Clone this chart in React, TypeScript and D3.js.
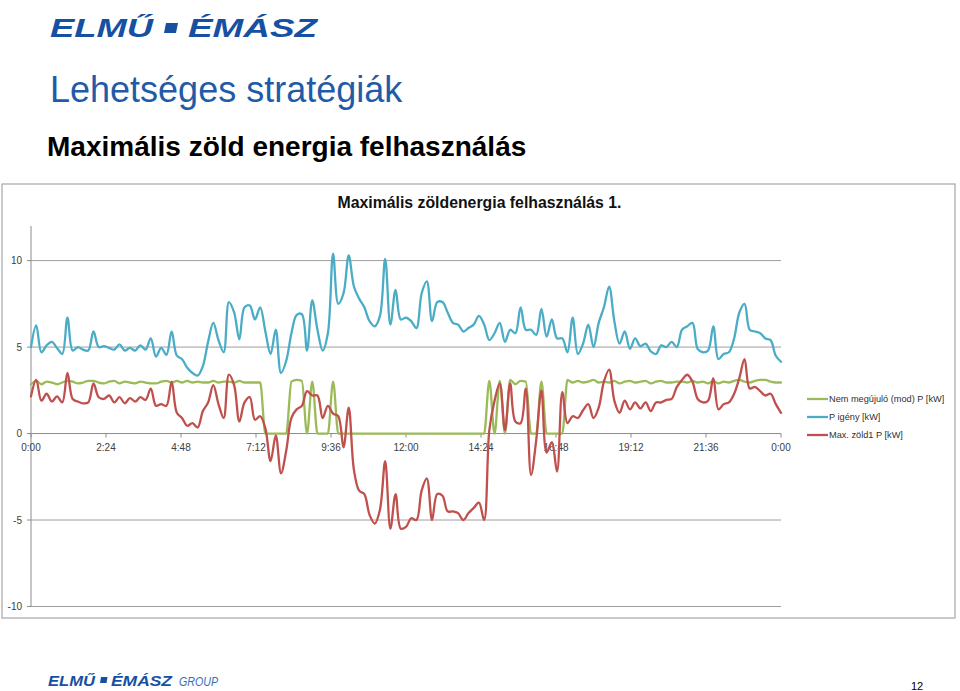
import React from 'react';
import * as d3 from 'd3';

const STEP_MIN = 10;
const xTickMinutes = [0, 144, 288, 432, 576, 720, 864, 1008, 1152, 1296, 1440];
const xTickLabels = ['0:00', '2:24', '4:48', '7:12', '9:36', '12:00', '14:24', '16:48', '19:12', '21:36', '0:00'];
const yTicks = [-10, -5, 0, 5, 10];
const seriesNames = ['Nem megújuló (mod) P [kW]', 'P igény [kW]', 'Max. zöld1 P [kW]'];
const seriesColors = ['#9bbb59', '#4bacc6', '#c0504d'];

const nemMegujulo = [
  2.85, 3.05, 2.85, 3.0, 2.95, 2.85, 2.95, 3.05, 3.0, 2.9,
  2.95, 3.05, 3.05, 2.95, 2.9, 3.0, 3.05, 2.9, 3.0, 2.95,
  2.9, 3.0, 2.95, 2.9, 2.9, 3.0, 3.05, 2.95, 3.05, 2.95,
  3.05, 2.95, 3.0, 2.95, 2.95, 3.05, 2.95, 3.0, 3.0, 2.95,
  3.05, 2.95, 2.95, 2.95, 2.95, 0, 0, 0, 0, 0,
  3.0, 3.1, 3.05, 0, 3.0, 0, 0, 0, 3.0, 0,
  0, 0, 0, 0, 0, 0, 0, 0, 0, 0,
  0, 0, 0, 0, 0, 0, 0, 0, 0, 0,
  0, 0, 0, 0, 0, 0, 0, 0, 3.05, 0,
  3.05, 0, 3.1, 2.85, 3.05, 3.0, 0, 0, 3.0, 0,
  0, 0, 0, 3.1, 2.95, 3.05, 2.95, 3.0, 3.1, 2.95,
  3.0, 2.95, 3.05, 2.9, 3.0, 3.05, 2.95, 3.0, 3.05, 2.9,
  3.0, 3.05, 2.95, 2.95, 3.0, 3.0, 2.95, 3.05, 2.95, 3.0,
  2.9, 3.05, 2.9, 3.0, 2.95, 3.05, 3.1, 3.0, 2.95, 3.05,
  3.1, 3.1, 3.0, 2.95, 2.95,
];

const pIgeny = [
  5.0, 6.25, 4.7, 5.1, 5.3, 4.95, 4.6, 6.7, 4.8, 5.0,
  4.85, 4.8, 5.9, 5.0, 5.05, 4.95, 4.85, 5.15, 4.8, 4.95,
  4.8, 5.1, 4.85, 5.5, 4.45, 4.95, 4.55, 5.9, 4.5, 4.3,
  3.8, 3.5, 3.35, 3.9, 5.3, 6.4, 5.4, 4.7, 7.6, 7.0,
  5.45, 7.3, 7.4, 6.6, 7.3, 5.9, 4.6, 6.0, 3.5, 4.2,
  5.8, 6.85, 6.9, 4.8, 7.7, 6.0, 4.8, 5.8, 10.4, 7.5,
  8.1, 10.3, 8.5, 7.8, 7.3, 6.5, 6.2, 6.8, 10.1, 6.3,
  8.3, 6.6, 6.7, 6.5, 6.1, 8.1, 8.8, 6.5, 7.6, 7.6,
  7.0, 6.4, 6.3, 5.9, 6.1, 6.3, 6.8, 6.3, 5.4, 5.8,
  6.4, 5.3, 6.0, 5.8, 7.3, 6.0, 6.0, 5.7, 7.2, 5.6,
  6.6, 5.5, 5.5, 4.7, 6.7, 4.6, 5.2, 6.3, 5.0, 6.4,
  7.3, 8.5, 6.5, 5.2, 5.9, 4.9, 5.5, 5.05, 5.2, 4.75,
  4.6, 5.1, 5.0, 5.3, 5.0, 6.0, 6.2, 6.4, 4.9, 4.7,
  4.8, 6.2, 4.3, 4.6, 4.7, 5.5, 7.0, 7.5, 6.0, 5.9,
  5.8, 5.5, 5.4, 4.5, 4.15,
];

const maxZold1 = [
  2.15, 3.1, 1.9, 2.3, 1.85, 2.15, 1.8, 3.5, 2.0, 1.85,
  1.75, 1.8, 2.9, 2.1, 2.0, 2.2, 1.8, 2.1, 1.75, 2.05,
  1.85, 2.1, 1.95, 2.6, 1.6, 1.7, 1.6, 3.0, 1.2, 0.9,
  0.45, 0.6, 0.35, 1.3, 1.8, 2.8, 1.7, 0.9, 3.4, 2.8,
  0.7, 1.8, 2.1, 0.8, 1.0, 0.3, -1.6, -0.1, -2.3, -1.0,
  0.9, 1.4, 1.6, 2.45, 2.2, 2.2, 0.9, 1.6, 1.15, 1.0,
  -0.8, 1.5, -2.1, -3.3, -3.5, -4.7, -5.2, -4.4, -1.6, -5.5,
  -3.5, -5.5, -5.4, -4.9, -5.0, -3.3, -2.6, -5.0, -3.5, -3.6,
  -4.5, -4.5, -4.6, -5.0, -4.6, -4.3, -4.0, -5.0, 0.2, 1.9,
  2.9, 0.2, 2.9, 0.7, 0.6, 2.6, -2.4, -0.4, 2.5, -1.1,
  -0.5, -2.2, 2.4, 0.6, 1.0, 0.9, 1.35, 1.7, 0.9, 1.5,
  3.0, 3.7, 1.9, 1.2, 1.9, 1.4, 1.8, 1.45, 1.8, 1.3,
  1.8, 1.8, 1.95, 2.0, 2.7, 3.1, 3.4, 3.0, 2.0, 1.8,
  1.9, 3.2, 1.4, 1.7, 1.8, 2.3, 3.2, 4.3, 2.6, 2.7,
  2.45, 2.2, 2.3, 1.7, 1.2,
];

const SANS = "'Liberation Sans', Arial, sans-serif";

export default function App() {
  const x = d3.scaleLinear().domain([0, 1440]).range([31, 781]);
  const y = d3.scaleLinear().domain([-10, 12]).range([606.5, 226]);

  const makeLine = (vals: number[], curve: d3.CurveFactory) =>
    d3
      .line<number>()
      .x((_, i) => x(i * STEP_MIN))
      .y((d) => y(d))
      .curve(curve)(vals) || '';

  const series = [
    { name: seriesNames[0], color: seriesColors[0], d: makeLine(nemMegujulo, d3.curveMonotoneX) },
    { name: seriesNames[1], color: seriesColors[1], d: makeLine(pIgeny, d3.curveCatmullRom.alpha(0.5)) },
    { name: seriesNames[2], color: seriesColors[2], d: makeLine(maxZold1, d3.curveCatmullRom.alpha(0.5)) },
  ];

  const [x0, x1] = x.range();
  const legendX = 807;
  const legendY = [399, 417, 435];

  return (
    <svg
      width={960}
      height={691}
      viewBox="0 0 960 691"
      style={{ position: 'absolute', left: 0, top: 0, background: '#fff' }}
      fontFamily={SANS}
    >
      <rect x={0} y={0} width={960} height={691} fill="#fff" />

      {/* Header logo */}
      <g fill="#1650a3" fontWeight="bold" fontStyle="italic" fontSize={26}>
        <text x={50} y={37} textLength={103} lengthAdjust="spacingAndGlyphs">ELMŰ</text>
        <polygon points="166,23 178,23 176,33 164,33" />
        <text x={188} y={37} textLength={129} lengthAdjust="spacingAndGlyphs">ÉMÁSZ</text>
      </g>

      <text x={50} y={102} fontSize={36} fill="#1f5ba8">Lehetséges stratégiák</text>
      <text x={47} y={156} fontSize={28} fontWeight="bold" fill="#000">Maximális zöld energia felhasználás</text>

      {/* Chart frame */}
      <rect x={2} y={184} width={953} height={434} fill="#fff" stroke="#a6a6a6" strokeWidth={1.2} />

      <text x={479.5} y={208} fontSize={16} fontWeight="bold" textAnchor="middle" fill="#111"
        textLength={284} lengthAdjust="spacingAndGlyphs">
        Maximális zöldenergia felhasználás 1.
      </text>

      {/* Gridlines and y axis */}
      {yTicks.map((t) => (
        <g key={'g' + t}>
          <line x1={x0} x2={x1} y1={y(t)} y2={y(t)} stroke={t === 0 ? '#8c8c8c' : '#9e9e9e'} strokeWidth={1} />
          <line x1={x0 - 4} x2={x0} y1={y(t)} y2={y(t)} stroke="#8c8c8c" strokeWidth={1} />
          <text x={22} y={y(t) + 3.5} fontSize={10} textAnchor="end" fill="#404040">{t}</text>
        </g>
      ))}
      <line x1={x0} x2={x0} y1={y(12)} y2={y(-10)} stroke="#8c8c8c" strokeWidth={1} />

      {/* X axis ticks at zero */}
      {xTickMinutes.map((m, i) => (
        <g key={'x' + i}>
          <line x1={x(m)} x2={x(m)} y1={y(0)} y2={y(0) + 4} stroke="#8c8c8c" strokeWidth={1} />
          <text x={x(m)} y={451} fontSize={10} textAnchor="middle" fill="#404040">{xTickLabels[i]}</text>
        </g>
      ))}

      {/* Series */}
      {series.map((s) => (
        <path key={s.name} d={s.d} fill="none" stroke={s.color} strokeWidth={2.3}
          strokeLinejoin="round" strokeLinecap="round" />
      ))}

      {/* Legend */}
      {series.map((s, i) => (
        <g key={'l' + i}>
          <line x1={legendX} x2={legendX + 21} y1={legendY[i]} y2={legendY[i]} stroke={s.color} strokeWidth={2.3} />
          <text x={legendX + 22} y={legendY[i] + 3.3} fontSize={9.2} fill="#303030">{s.name}</text>
        </g>
      ))}

      {/* Footer */}
      <g fill="#1650a3" fontWeight="bold" fontStyle="italic" fontSize={15}>
        <text x={48} y={686} textLength={47} lengthAdjust="spacingAndGlyphs">ELMŰ</text>
        <polygon points="101,677 107.5,677 106.5,683 100,683" />
        <text x={111} y={686} textLength={61} lengthAdjust="spacingAndGlyphs">ÉMÁSZ</text>
      </g>
      <text x={179} y={686} fontSize={13} fontStyle="italic" fill="#3a6db5" textLength={39}
        lengthAdjust="spacingAndGlyphs">GROUP</text>
      <text x={911} y={690} fontSize={11} fill="#000">12</text>
    </svg>
  );
}
